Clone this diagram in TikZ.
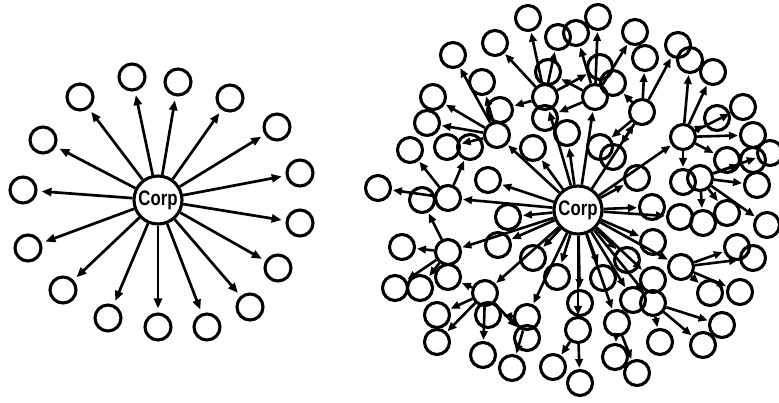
\documentclass[tikz,border=0pt]{standalone}
\usepackage{fontspec}
\setsansfont{Liberation Sans}
\usetikzlibrary{arrows.meta}
\begin{document}
\begin{tikzpicture}[x=1pt,y=-1pt,
  leaf/.style={circle, draw, line width=3.1pt, minimum size=25pt, inner sep=0pt},
  bigleaf/.style={leaf, minimum size=26pt},
  corp/.style={leaf, fill=white, minimum size=48pt,
    font=\sffamily\bfseries\fontsize{21}{21}\selectfont},
  arr/.style={line width=2.7pt, -{Triangle[length=10pt,width=8pt]}, shorten >=4pt},
  harr/.style={line width=2.6pt, -{Triangle[length=9pt,width=7.5pt]}, shorten >=1pt}]
\useasboundingbox (0,0) rectangle (779,403);
% ---------- left: one corporation, sixteen links ----------
\node[corp] (cL) at (158,200) {\scalebox{0.8}[1]{Corp}};
\foreach \x/\y [count=\i] in {132/77, 178/82, 80/97, 230/98, 43/140, 277/127,
  23/190, 300/173, 300/223, 28/248, 278/268, 63/290, 250/307, 108/318,
  158/327, 207/327}{
  \node[bigleaf] (a\i) at (\x,\y) {};
  \draw[arr] (cL) -- (a\i);
}
% ---------- right: the network ----------
\node[corp] (cR) at (578,210) {\scalebox{0.8}[1]{Corp}};
\foreach \x/\y [count=\i] in {497/135, 545/97, 595/97, 642/112, 683/137,
  448/198, 448/252, 485/293, 527/317, 578/330, 617/323, 653/303, 681/267,
  700/178}{
  \node[leaf] (h\i) at (\x,\y) {};
}
\foreach \i in {1,...,13}{
  \draw[harr] (cR) -- (h\i);
}
% nodes linked straight from the centre
\foreach \x/\y [count=\i] in {508/217, 498/245, 533/258, 557/277, 603/278,
  627/260, 653/242, 652/207, 680/217, 637/178, 567/133, 533/148, 488/180,
  653/280, 633/300, 580/303}{
  \node[leaf] (m\i) at (\x,\y) {};
  \draw[harr] (cR) -- (m\i);
}
% nodes linked from the hubs
\foreach \x/\y/\h [count=\i] in {528/18/h2, 598/17/h3, 558/37/h2, 576/33/h3,
  635/32/h3, 495/43/h2, 453/55/h1, 645/58/h4, 678/45/h4, 690/60/h5,
  713/72/h5, 743/107/h5, 717/118/h5, 753/135/h5, 770/153/h14, 753/160/h14,
  757/185/h14, 433/97/h1, 427/123/h1, 410/150/h6, 378/188/h6, 482/82/h1,
  548/72/h3, 600/67/h2, 613/83/h4, 500/110/h2, 447/147/h1, 470/147/h6,
  545/118/h3, 600/147/h4, 613/157/h4, 727/160/h5, 683/182/h5, 422/200/h7,
  767/225/h14, 727/213/h14, 703/223/h14, 737/247/h13, 753/258/h13,
  740/292/h13, 710/293/h13, 722/325/h12, 703/345/h12, 660/342/h12,
  637/373/h11, 615/357/h11, 580/383/h10, 553/367/h10, 512/368/h9,
  483/355/h8, 437/342/h8, 437/315/h8, 395/288/h7, 420/288/h7, 402/247/h7,
  448/277/h8, 488/315/h9, 527/338/h8}{
  \node[leaf] (l\i) at (\x,\y) {};
  \draw[harr] (\h) -- (l\i);
}
\end{tikzpicture}
\end{document}
